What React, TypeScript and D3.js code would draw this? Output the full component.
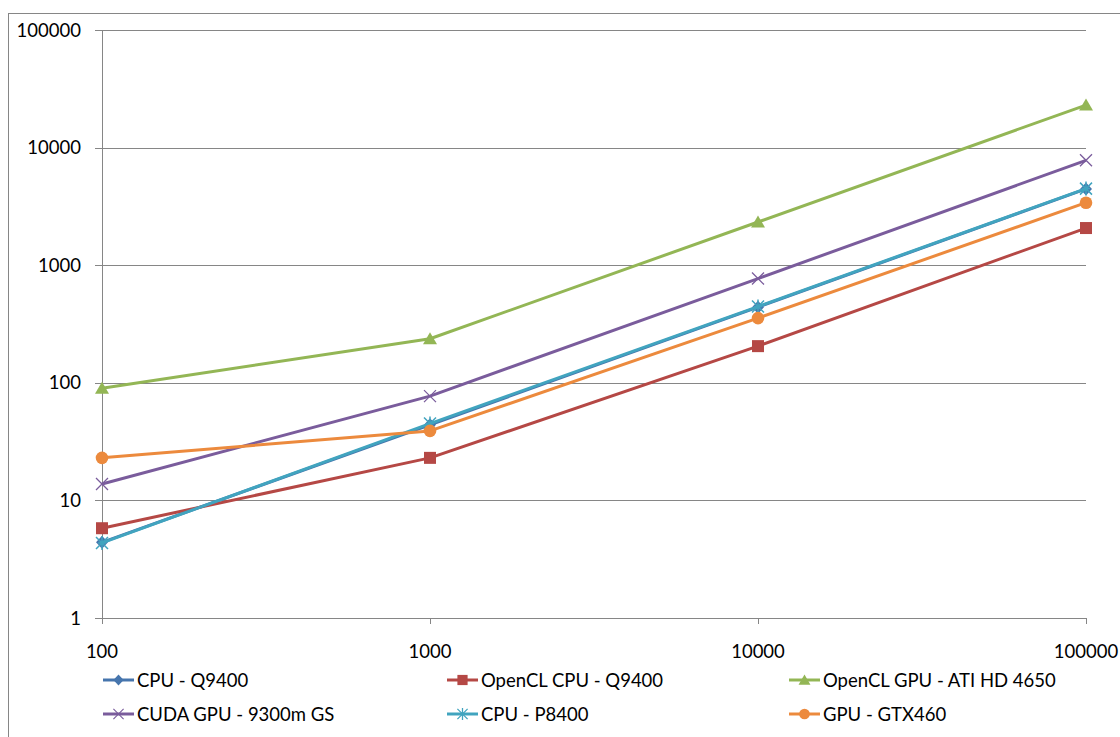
import * as d3 from "d3";

// problem size (x) and time (y) for each implementation
const sizes = [100, 1000, 10000, 100000];
const cpuQ9400 = [4.4, 44, 440, 4450];
const openclCpuQ9400 = [5.8, 23, 205, 2070];
const openclGpuAti = [90, 237, 2330, 23000];
const cudaGpu9300 = [13.8, 77, 770, 7800];
const cpuP8400 = [4.35, 45, 445, 4480];
const gpuGtx460 = [23, 39, 355, 3400];

const seriesNames = [
  "CPU - Q9400",
  "OpenCL CPU - Q9400",
  "OpenCL GPU - ATI HD 4650",
  "CUDA GPU - 9300m GS",
  "CPU - P8400",
  "GPU - GTX460",
];
const xTicks = [100, 1000, 10000, 100000];
const yTicks = [1, 10, 100, 1000, 10000, 100000];

const W = 1120;
const H = 737;
const font = "Lato, 'Open Sans', sans-serif";

type Marker = "diamond" | "square" | "triangle" | "x" | "asterisk" | "circle";

const series = [
  { name: seriesNames[0], values: cpuQ9400, color: "#4675AD", marker: "diamond" as Marker },
  { name: seriesNames[1], values: openclCpuQ9400, color: "#B54845", marker: "square" as Marker },
  { name: seriesNames[2], values: openclGpuAti, color: "#93B655", marker: "triangle" as Marker },
  { name: seriesNames[3], values: cudaGpu9300, color: "#7A5C9C", marker: "x" as Marker },
  { name: seriesNames[4], values: cpuP8400, color: "#41A4BF", marker: "asterisk" as Marker },
  { name: seriesNames[5], values: gpuGtx460, color: "#EC8A3D", marker: "circle" as Marker },
];

function MarkerShape({ type, color, x, y, s = 1 }: { type: Marker; color: string; x: number; y: number; s?: number }) {
  const t = `translate(${x},${y}) scale(${s})`;
  switch (type) {
    case "diamond":
      return <path transform={t} d="M0,-6.5L6,0L0,6.5L-6,0Z" fill={color} />;
    case "square":
      return <rect transform={t} x={-6} y={-6} width={12} height={12} fill={color} />;
    case "triangle":
      return <path transform={t} d="M0,-6.5L7,5.5L-7,5.5Z" fill={color} />;
    case "circle":
      return <circle transform={t} r={6.3} fill={color} />;
    case "x":
      return (
        <path transform={t} d="M-6,-6L6,6M-6,6L6,-6" stroke={color} strokeWidth={1.3} fill="none" />
      );
    case "asterisk":
      return (
        <path
          transform={t}
          d="M-6,-6L6,6M-6,6L6,-6M0,-7L0,7M-4,0L4,0"
          stroke={color}
          strokeWidth={1.5}
          fill="none"
        />
      );
  }
}

export default function App() {
  const left = 102;
  const right = 1086;
  const top = 30;
  const bottom = 618;

  const x = d3.scaleLog().domain([100, 100000]).range([left, right]);
  const y = d3.scaleLog().domain([1, 100000]).range([bottom, top]);

  const line = d3
    .line<number>()
    .x((_, i) => x(sizes[i]))
    .y((d) => y(d));

  const legendCols = [103, 447, 789];
  const legendRows = [680, 714];

  return (
    <svg
      width={W}
      height={H}
      style={{ position: "absolute", left: 0, top: 0, background: "#fff" }}
      fontFamily={font}
    >
      <rect x={8.5} y={13.5} width={W} height={H} fill="none" stroke="#868686" strokeWidth={1} />

      {/* horizontal gridlines + y tick labels */}
      {yTicks.map((t) => (
        <g key={t}>
          <line x1={95} x2={right} y1={Math.round(y(t)) + 0.5} y2={Math.round(y(t)) + 0.5} stroke="#868686" strokeWidth={1} />
          <text x={81} y={y(t)} dy="0.36em" textAnchor="end" fontSize={18.5} fill="#000">
            {t}
          </text>
        </g>
      ))}

      {/* y axis line */}
      <line x1={left + 0.5} x2={left + 0.5} y1={top} y2={bottom + 6} stroke="#868686" />

      {/* x ticks + labels */}
      {xTicks.map((t) => (
        <g key={t}>
          <line x1={Math.round(x(t)) + 0.5} x2={Math.round(x(t)) + 0.5} y1={bottom} y2={bottom + 6} stroke="#868686" />
          <text x={x(t)} y={658} textAnchor="middle" fontSize={18.5} fill="#000">
            {t}
          </text>
        </g>
      ))}

      {/* series */}
      {series.map((s) => (
        <g key={s.name}>
          <path d={line(s.values) ?? ""} fill="none" stroke={s.color} strokeWidth={3} strokeLinejoin="round" />
          {s.values.map((v, i) => (
            <MarkerShape key={i} type={s.marker} color={s.color} x={x(sizes[i])} y={y(v)} />
          ))}
        </g>
      ))}

      {/* legend */}
      {series.map((s, i) => {
        const lx = legendCols[i % 3];
        const ly = legendRows[Math.floor(i / 3)];
        return (
          <g key={s.name}>
            <line x1={lx} x2={lx + 31} y1={ly} y2={ly} stroke={s.color} strokeWidth={3} />
            <MarkerShape type={s.marker} color={s.color} x={lx + 15.5} y={ly} s={0.85} />
            <text x={lx + 34} y={ly} dy="0.36em" fontSize={18.5} fill="#000">
              {s.name}
            </text>
          </g>
        );
      })}
    </svg>
  );
}
